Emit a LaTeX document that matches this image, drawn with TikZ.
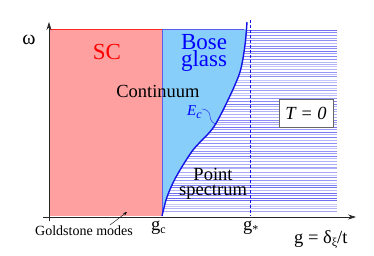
\documentclass[tikz,border=0pt]{standalone}
\usepackage{fontspec}
\setmainfont{Liberation Serif}
\usetikzlibrary{arrows.meta}
\definecolor{scpink}{RGB}{255,160,160}
\definecolor{glassblue}{RGB}{135,206,250}
\definecolor{lineblue}{RGB}{80,80,240}
\definecolor{curveblue}{RGB}{20,20,230}
\newcommand{\lowsub}[1]{\raisebox{-0.45ex}{\fontsize{12}{12}\selectfont #1}}
\tikzset{
  axis/.style={-{Stealth[length=8pt,width=5pt]}, line width=0.7pt, black!85},
  lbl/.style={inner sep=0pt, font=\fontsize{18.5}{15}\selectfont},
  big/.style={inner sep=0pt, align=center, font=\fontsize{23}{15}\selectfont},
}

\begin{document}
\begin{tikzpicture}[x=1pt, y=-1pt]
  \useasboundingbox (0,0) rectangle (374,255);

  % superconducting region
  \fill[scpink] (49,29) rectangle (162,216);
  \draw[red!85, line width=0.5pt] (49,29) -- (162,29);

  % point spectrum lines
  \pgfmathsetseed{11}
  \foreach \k in {0,...,69} {
    \pgfmathsetmacro{\yy}{30 + 2.63*\k + 0.6*rand}
    \pgfmathsetmacro{\op}{0.3 + 0.55*rnd}
    \draw[lineblue, line width=0.8pt, opacity=\op] (162,\yy) -- (337,\yy);
  }

  % Bose glass
  \begin{scope}
    \clip (162,29) rectangle (260,216);
    \fill[glassblue] (162,20) -- (162,216) -- plot[smooth] coordinates
      {(162,216) (167,197) (176,177) (193,150) (213,128) (228,100) (240,72) (245,45) (247,22)}
      -- cycle;
  \end{scope}
  \draw[curveblue!70, line width=0.5pt] (162,216) -- (162,29) -- (244,29);

  \draw[curveblue, dashed, dash pattern=on 3pt off 2pt, line width=0.9pt] (250,20) -- (250,216);
  \draw[curveblue, line width=1.4pt] plot[smooth] coordinates
    {(162,216) (167,197) (176,177) (193,150) (213,128) (228,100) (240,72) (245,45) (247,22)};

  % axes
  \draw[axis] (49,221) -- (49,22);
  \draw[axis] (43,217) -- (356,217);

  % labels
  \node[lbl, anchor=base, font=\fontsize{20}{20}\selectfont] (omega) at (29,44) {ω};
  \node[big, red, anchor=base] (sc) at (107,59) {SC};
  \node[big, blue] (bose) at (204,53) {Bose\\glass};
  \node[lbl, anchor=base] (cont) at (158,97) {Continuum};
  \node[lbl, anchor=base west, blue, font=\fontsize{15}{15}\selectfont\itshape] (ec) at (187,115) {E\lowsub{c}};
  \coordinate (ecend) at (217,124);
  \draw[curveblue, line width=0.4pt] (ec.north east) ++(0,4) coordinate (ecstart)
    to[out=0, in=90] (210,116) to[out=-90, in=180] (ecend);
  \node[lbl, draw=black!60, fill=white, line width=0.5pt, minimum width=54pt,
        minimum height=28pt, font=\fontsize{18.5}{15}\selectfont\itshape] (temp) at (306,113) {T = 0};
  \node[lbl, align=center] (point) at (213,184) {Point\\spectrum};
  \node[lbl, anchor=base, font=\fontsize{14}{14}\selectfont] (gold) at (84,235) {Goldstone modes};
  \coordinate (goldfrom) at (110,225);
  \coordinate (goldto) at (127,212);
  \draw[-{Stealth[length=4pt,width=3pt]}, line width=0.4pt] (goldfrom) -- (goldto);
  \node[lbl, anchor=base west] (gc) at (151,230) {g\lowsub{c}};
  \node[lbl, anchor=base west] (gstar) at (243,230) {g\lowsub{*}};
  \node[lbl, anchor=base west] (gdef) at (294,243) {g = δ\lowsub{ξ}/t};
\end{tikzpicture}
\end{document}
